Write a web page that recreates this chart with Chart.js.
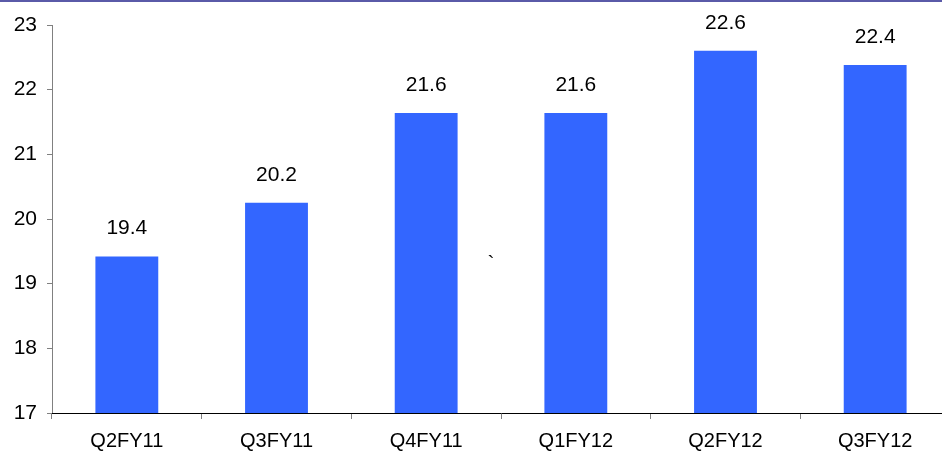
<!DOCTYPE html>
<html>
<head>
<meta charset="utf-8">
<script src="https://cdn.jsdelivr.net/npm/chart.js@4.4.0/dist/chart.umd.min.js"></script>
<style>
  html, body { margin: 0; padding: 0; background: #fff; overflow: hidden; }
  #wrap { position: relative; width: 950px; height: 453px; border-top: 2px solid #5a5aa8; box-sizing: border-box; }
</style>
</head>
<body>
<div id="wrap"><canvas id="chart" width="950" height="451"></canvas></div>
<script>
// ===== DATA =====
const categories = ['Q2FY11', 'Q3FY11', 'Q4FY11', 'Q1FY12', 'Q2FY12', 'Q3FY12'];
const values = [19.42, 20.25, 21.64, 21.64, 22.6, 22.38];
const valueLabels = ['19.4', '20.2', '21.6', '21.6', '22.6', '22.4'];
const yTicks = [17, 18, 19, 20, 21, 22, 23];

const FONT = '"Liberation Sans", Arial, sans-serif';

// ===== VALUE LABELS ABOVE BARS =====
const barLabels = {
    id: 'barLabels',
    afterDatasetsDraw(chart) {
        const ctx = chart.ctx;
        const meta = chart.getDatasetMeta(0);
        ctx.save();
        ctx.font = '21px ' + FONT;
        ctx.fillStyle = '#000';
        ctx.textAlign = 'center';
        ctx.textBaseline = 'middle';
        meta.data.forEach((bar, i) => {
            ctx.fillText(valueLabels[i], bar.x, bar.y - 28);
        });
        // stray mark present in the original
        const xs = chart.scales.x, ys = chart.scales.y;
        ctx.fillText('`', (xs.getPixelForValue(2) + xs.getPixelForValue(3)) / 2 - 10, ys.getPixelForValue(19.3));
        ctx.restore();
    }
};

new Chart(document.getElementById('chart'), {
    type: 'bar',
    data: {
        labels: categories,
        datasets: [{
            data: values,
            backgroundColor: '#3366ff',
            borderWidth: 0,
            barPercentage: 0.42,
            categoryPercentage: 1
        }]
    },
    options: {
        responsive: false,
        animation: false,
        layout: { padding: { top: 23, right: 0, left: 0, bottom: 0 } },
        plugins: {
            legend: { display: false },
            tooltip: { enabled: false }
        },
        scales: {
            y: {
                min: 17,
                max: 23,
                afterFit: (s) => { s.width = 52; },
                afterBuildTicks: (s) => { s.ticks = yTicks.map(v => ({ value: v })); },
                border: { color: '#808080', width: 1 },
                grid: { drawOnChartArea: false, tickLength: 5, color: '#808080' },
                ticks: {
                    padding: 10,
                    color: '#000',
                    font: { family: FONT, size: 21 }
                }
            },
            x: {
                afterFit: (s) => { s.height = 40; },
                border: { color: '#000', width: 1 },
                grid: { drawOnChartArea: false, tickLength: 6, color: '#808080', offset: true },
                ticks: {
                    padding: 10,
                    color: '#000',
                    maxRotation: 0,
                    font: { family: FONT, size: 20 }
                }
            }
        }
    },
    plugins: [barLabels]
});
</script>
</body>
</html>
